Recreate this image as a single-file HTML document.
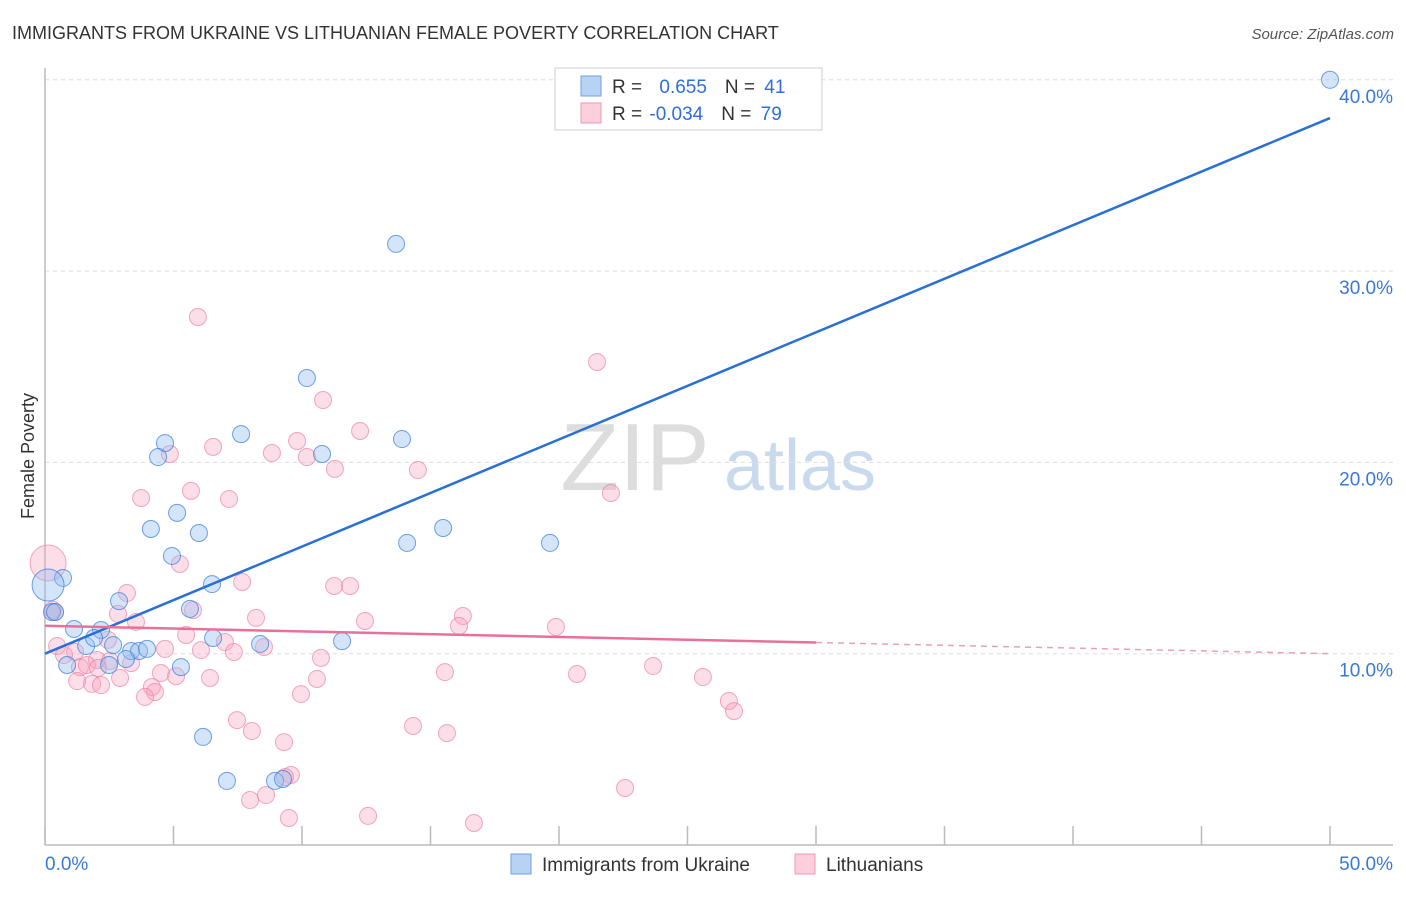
<!DOCTYPE html>
<html><head><meta charset="utf-8"><style>
body{margin:0;background:#fff;font-family:"Liberation Sans",sans-serif;}
svg text{font-family:"Liberation Sans",sans-serif;}
</style></head><body>
<svg id="chart" width="1406" height="892" xmlns="http://www.w3.org/2000/svg">
<text x="12" y="39" font-size="18" fill="#333">IMMIGRANTS FROM UKRAINE VS LITHUANIAN FEMALE POVERTY CORRELATION CHART</text>
<text x="1394" y="39" font-size="15" fill="#555" text-anchor="end" font-style="italic">Source: ZipAtlas.com</text>
<text x="34" y="456" font-size="18" fill="#333" text-anchor="middle" transform="rotate(-90 34 456)">Female Poverty</text>
<g><text x="635" y="490" font-size="96" fill="#ddd" text-anchor="middle" font-family="Liberation Serif,serif">ZIP</text><text x="800" y="490" font-size="72" fill="#c9d9ee" text-anchor="middle">atlas</text></g>
<g id="grid"></g><g id="axes"></g><g id="pts"></g><g id="lines"></g>
<g>
<rect x="555" y="68" width="267" height="62" fill="#fff" stroke="#ccc"/>
<rect x="581" y="76" width="20" height="20" fill="#b8d2f4" stroke="#6fa0e0"/>
<rect x="581" y="103" width="20" height="20" fill="#fbcfdc" stroke="#ee9ab4"/>
<text x="612" y="93" font-size="19" fill="#333">R = <tspan fill="#2f6fd6" dx="12">0.655</tspan><tspan dx="18" fill="#333">N = </tspan><tspan fill="#2f6fd6" dx="4">41</tspan></text>
<text x="612" y="120" font-size="19" fill="#333">R = <tspan fill="#2f6fd6" dx="2">-0.034</tspan><tspan dx="18" fill="#333">N = </tspan><tspan fill="#2f6fd6" dx="4">79</tspan></text>
</g>
<g>
<rect x="511" y="854" width="20" height="20" fill="#b8d2f4" stroke="#6fa0e0"/>
<text x="542" y="871" font-size="19" fill="#333">Immigrants from Ukraine</text>
<rect x="795" y="854" width="20" height="20" fill="#fbcfdc" stroke="#ee9ab4"/>
<text x="826" y="871" font-size="19" fill="#333">Lithuanians</text>
</g>
</svg>
<script>
const blueX=[50.0,13.66,10.19,4.67,4.40,7.63,10.78,13.89,5.14,4.12,5.99,15.49,14.09,19.65,4.94,6.50,0.70,0.12,0.27,2.88,5.64,2.18,1.13,1.60,1.91,2.65,3.35,3.66,3.97,6.54,8.37,11.56,0.86,2.49,5.29,3.15,6.15,7.08,8.95,9.26,0.39];
const blueY=[40.0,31.42,24.41,21.01,20.28,21.48,20.44,21.22,17.36,16.52,16.31,16.57,15.79,15.79,15.11,13.64,13.96,13.59,12.18,12.75,12.34,11.24,11.29,10.40,10.82,10.45,10.14,10.14,10.25,10.82,10.51,10.66,9.41,9.41,9.30,9.72,5.65,3.35,3.35,3.45,12.18];
const pinkX=[5.95,21.48,10.82,12.26,9.81,6.54,8.83,4.86,10.19,11.28,14.51,5.68,3.74,7.16,22.02,5.25,7.67,11.25,11.87,3.19,2.84,5.76,8.21,16.26,12.45,16.11,19.88,3.54,5.49,2.45,7.00,4.67,6.07,7.35,8.52,0.47,0.74,1.17,2.02,2.53,3.35,10.74,1.36,1.63,2.06,4.51,5.10,15.56,20.70,23.66,25.60,1.25,1.83,2.18,2.92,4.16,4.28,3.89,6.42,10.58,9.96,7.47,8.05,14.32,15.64,26.61,26.81,9.30,9.57,9.34,7.98,8.60,22.57,9.49,12.57,16.69,0.12,0.39,0.3];
const pinkY=[27.60,25.25,23.26,21.64,21.12,20.81,20.49,20.44,20.28,19.66,19.60,18.51,18.14,18.09,18.40,14.69,13.75,13.54,13.54,13.17,12.08,12.28,11.87,11.97,11.71,11.45,11.40,11.66,10.98,10.72,10.61,10.25,10.19,10.09,10.35,10.40,9.93,10.09,9.67,9.62,9.51,9.78,9.30,9.41,9.25,8.99,8.83,9.04,8.94,9.36,8.78,8.57,8.42,8.36,8.73,8.26,8.00,7.74,8.73,8.68,7.89,6.53,5.96,6.22,5.85,7.53,7.00,5.38,3.66,3.55,2.35,2.61,2.98,1.41,1.52,1.15,14.74,12.18,12.3];
const yTicks=[10,20,30,40];
const yTickLabels=["10.0%","20.0%","30.0%","40.0%"];
const blueTrend=[10.0,38.0];
const pinkTrend=[11.46,10.0];
const NS="http://www.w3.org/2000/svg";
const X=v=>45+v*25.7, Y=v=>845-v*19.13;
function mk(tag,attrs,parent){const e=document.createElementNS(NS,tag);for(const k in attrs)e.setAttribute(k,attrs[k]);document.getElementById(parent).appendChild(e);return e;}
yTicks.forEach((t,i)=>{
 const l=mk('line',{x1:45,x2:1393,y1:Y(t),y2:Y(t),stroke:'#ddd','stroke-dasharray':'4,4'},'grid');
 
 
 const tx=mk('text',{x:1393,y:Y(t)+23,'font-size':19,fill:'#3a78d6','text-anchor':'end'},'grid');
 tx.textContent=yTickLabels[i];
 
 
});
mk('line',{x1:45,x2:45,y1:68,y2:845,stroke:'#bbb','stroke-width':1.5},'axes');
mk('line',{x1:45,x2:1393,y1:845,y2:845,stroke:'#bbb','stroke-width':1.5},'axes');
for(let v=0;v<=50;v+=5){mk('line',{x1:X(v),x2:X(v),y1:826,y2:845,stroke:'#bbb','stroke-width':1.5},'axes');}
const xl=mk('text',{x:45,y:870,'font-size':19,fill:'#3a78d6'},'axes');xl.textContent='0.0%';


const xr=mk('text',{x:1393,y:870,'font-size':19,fill:'#3a78d6','text-anchor':'end'},'axes');xr.textContent='50.0%';


pinkX.forEach((v,i)=>{
 const r=(i===pinkX.length-3)?18:8.5;
 const c=mk('circle',{cx:X(v),cy:Y(pinkY[i]),r:r,fill:'rgba(246,160,188,0.35)',stroke:'rgba(236,130,165,0.7)','stroke-width':1},'pts');
 
 
});
blueX.forEach((v,i)=>{
 const r=(i===17)?16:8.5;
 const c=mk('circle',{cx:X(v),cy:Y(blueY[i]),r:r,fill:'rgba(150,190,240,0.4)',stroke:'rgba(60,130,220,0.75)','stroke-width':1},'pts');
 
 
});
const bl=mk('line',{x1:X(0),y1:Y(blueTrend[0]),x2:X(50),y2:Y(blueTrend[1]),stroke:'#2a6fd8','stroke-width':2.5},'lines');


const pm=v=>pinkTrend[0]+(pinkTrend[1]-pinkTrend[0])*v/50;
const pl=mk('line',{x1:X(0),y1:Y(pm(0)),x2:X(30),y2:Y(pm(30)),stroke:'#e8709a','stroke-width':2.5},'lines');


const pd=mk('line',{x1:X(30),y1:Y(pm(30)),x2:X(50),y2:Y(pm(50)),stroke:'#e8a0b8','stroke-width':1.5,'stroke-dasharray':'6,5'},'lines');


</script>
</body></html>
